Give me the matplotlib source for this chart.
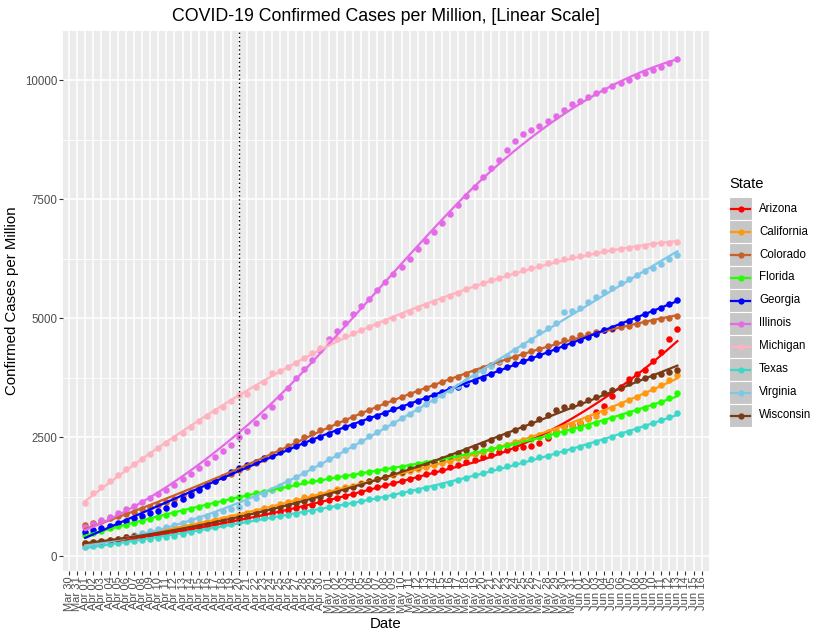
import numpy as np
import pandas as pd
import matplotlib
matplotlib.use("Agg")
import matplotlib.pyplot as plt
import matplotlib.dates as mdates
from matplotlib.patches import Rectangle
from matplotlib.lines import Line2D

plt.rcParams['font.family'] = ['Liberation Sans', 'DejaVu Sans']

# Confirmed cases per million, daily from Apr 01 to Jun 13 2020
start_date = "2020-04-01"

arizona = [250, 270, 290, 310, 330, 350, 370, 390, 410, 440, 460,
           490, 530, 560, 600, 630, 670, 700, 740, 770,
           800, 830, 860, 900, 930, 960, 1000, 1040,
           1080, 1130, 1170, 1220, 1260, 1310, 1350, 1400, 1440, 1490, 1530, 1580, 1620, 1670, 1720, 1760, 1810,
           1860, 1920, 1970, 2020, 2080, 2130, 2180,
           2220, 2260, 2290, 2310, 2370, 2480, 2600, 2730, 2750, 2790,
           2900, 3030, 3150, 3360, 3520, 3720, 3820, 3900, 4100, 4290, 4560, 4770]

california = [270, 290, 310, 340, 360, 390, 410, 440, 470, 490, 520,
              560, 600, 630, 670, 710, 750, 780, 820, 860,
              900, 950, 1000, 1040, 1090, 1130, 1180, 1230,
              1270, 1310, 1350, 1400, 1440, 1480, 1530, 1570, 1610, 1650, 1700, 1740, 1780, 1820, 1860, 1910, 1950,
              2000, 2050, 2100, 2140, 2190, 2240, 2290,
              2340, 2390, 2440, 2500, 2550, 2600, 2650, 2700, 2760, 2810,
              2880, 2950, 3030, 3110, 3190, 3270, 3350, 3430, 3510, 3600, 3700, 3800]

colorado = [650, 700, 740, 790, 840, 880, 930, 980, 1030, 1080, 1130,
            1200, 1280, 1350, 1430, 1510, 1580, 1660, 1730, 1810,
            1880, 1950, 2040, 2140, 2230, 2320, 2420, 2510,
            2580, 2650, 2720, 2790, 2860, 2930, 3000, 3070, 3140, 3210, 3270, 3340, 3400, 3470, 3530, 3590, 3650,
            3710, 3770, 3830, 3890, 3950, 4010, 4070,
            4130, 4190, 4240, 4300, 4350, 4410, 4470, 4530, 4580, 4640,
            4670, 4710, 4740, 4770, 4810, 4840, 4870, 4910, 4940, 4970, 5010, 5040]

florida = [440, 490, 530, 580, 620, 660, 700, 740, 780, 820, 860,
           900, 940, 990, 1030, 1070, 1110, 1150, 1200, 1240,
           1280, 1320, 1350, 1390, 1430, 1470, 1510, 1550,
           1580, 1600, 1630, 1660, 1690, 1710, 1740, 1770, 1790, 1820, 1850, 1880, 1900, 1930, 1960, 1980, 2010,
           2050, 2090, 2130, 2170, 2210, 2250, 2290,
           2330, 2370, 2410, 2450, 2490, 2530, 2570, 2610, 2650, 2690,
           2740, 2790, 2840, 2900, 2950, 3000, 3060, 3110, 3170, 3240, 3320, 3430]

georgia = [500, 550, 590, 640, 690, 740, 790, 850, 900, 950, 1000,
           1090, 1190, 1280, 1380, 1470, 1570, 1660, 1760, 1850,
           1910, 1980, 2050, 2110, 2180, 2250, 2310, 2380,
           2440, 2510, 2570, 2630, 2700, 2760, 2820, 2890, 2950, 3010, 3080, 3140, 3200, 3260, 3330, 3390, 3450,
           3510, 3560, 3610, 3680, 3750, 3830, 3900,
           3970, 4030, 4090, 4150, 4220, 4280, 4340, 4410, 4470, 4540,
           4600, 4670, 4740, 4800, 4870, 4940, 5010, 5080, 5150, 5220, 5300, 5380]

illinois = [610, 680, 750, 820, 900, 980, 1060, 1130, 1210, 1300, 1390,
            1500, 1620, 1730, 1840, 1950, 2070, 2200, 2330, 2500,
            2620, 2790, 2950, 3140, 3350, 3540, 3730, 3920, 4120, 4330, 4550,
            4730, 4900, 5080, 5250, 5410, 5580, 5750, 5920, 6080, 6250,
            6440, 6620, 6810, 7000, 7190, 7380, 7570, 7760, 7960, 8150,
            8320, 8520, 8720, 8860, 8940, 9030, 9140, 9250, 9360, 9490,
            9560, 9640, 9720, 9800, 9870, 9940, 10010, 10080, 10140, 10210, 10270, 10360, 10440]

michigan = [1110, 1320, 1450, 1570, 1700, 1820, 1930, 2040, 2150, 2260, 2370,
            2480, 2590, 2710, 2830, 2940, 3050, 3140, 3260, 3380,
            3400, 3550, 3660, 3840, 3880, 3970, 4050, 4150, 4260, 4380, 4500,
            4560, 4620, 4690, 4750, 4810, 4880, 4940, 5000, 5060, 5130,
            5200, 5270, 5330, 5400, 5470, 5530, 5600, 5670, 5730, 5800,
            5850, 5900, 5950, 6000, 6050, 6100, 6150, 6190, 6240, 6280,
            6310, 6340, 6370, 6400, 6430, 6460, 6480, 6500, 6520, 6550, 6570, 6580, 6600]

texas = [190, 210, 230, 250, 270, 290, 310, 330, 350, 380, 400,
         430, 470, 500, 540, 580, 610, 650, 680, 720,
         740, 770, 790, 820, 840, 870, 890, 920,
         950, 980, 1020, 1050, 1090, 1120, 1150, 1190, 1220, 1250, 1290, 1320, 1360, 1390, 1420, 1460, 1490,
         1540, 1590, 1640, 1700, 1750, 1800, 1850,
         1890, 1940, 1980, 2030, 2070, 2110, 2160, 2200, 2250, 2290,
         2340, 2390, 2440, 2500, 2560, 2610, 2670, 2730, 2790, 2850, 2920, 3000]

virginia = [190, 230, 270, 310, 350, 390, 440, 480, 520, 570, 610,
            660, 700, 750, 790, 840, 890, 940, 980, 1030,
            1120, 1210, 1300, 1390, 1480, 1570, 1660, 1750,
            1850, 1940, 2040, 2130, 2230, 2320, 2420, 2520, 2610, 2710, 2800, 2900, 2990, 3090, 3190, 3280, 3380,
            3480, 3580, 3680, 3780, 3880, 3990, 4100,
            4210, 4320, 4430, 4540, 4700, 4800, 4900, 5120, 5150, 5200,
            5330, 5440, 5540, 5640, 5730, 5820, 5900, 5980, 6060, 6140, 6230, 6320]

wisconsin = [280, 300, 320, 340, 360, 390, 410, 430, 450, 480, 500,
             530, 570, 600, 640, 670, 710, 750, 780, 820,
             860, 900, 940, 980, 1030, 1070, 1110, 1150,
             1200, 1250, 1310, 1360, 1410, 1460, 1510, 1570, 1620, 1670, 1720, 1770, 1830, 1880, 1930, 1980, 2030,
             2100, 2160, 2230, 2300, 2360, 2430, 2500,
             2570, 2640, 2720, 2800, 2880, 2970, 3060, 3140, 3160, 3210,
             3280, 3350, 3420, 3490, 3560, 3630, 3690, 3730, 3780, 3820, 3860, 3900]

states = ["Arizona", "California", "Colorado", "Florida", "Georgia",
          "Illinois", "Michigan", "Texas", "Virginia", "Wisconsin"]
series = [arizona, california, colorado, florida, georgia,
          illinois, michigan, texas, virginia, wisconsin]
colors = ["#FF0000", "#FF9912", "#C8602A", "#22FF00", "#0000FF",
          "#E46AE8", "#FFB3C1", "#3ED8C8", "#80C6E6", "#7A3A16"]

marker_date = "2020-04-20"
x_min, x_max = "2020-03-30", "2020-06-16"


def loess(x, y, xs, span=0.75):
    # local quadratic fit with tricube weights, same idea as geom_smooth
    n = len(x)
    q = int(np.ceil(span * n))
    out = []
    for x0 in xs:
        d = np.abs(x - x0)
        h = np.sort(d)[q - 1]
        w = np.clip(1 - (d / h) ** 3, 0, None) ** 3
        A = np.vstack([np.ones(n), x - x0, (x - x0) ** 2]).T
        W = np.sqrt(w)
        coef = np.linalg.lstsq(A * W[:, None], y * W, rcond=None)[0]
        out.append(coef[0])
    return np.array(out)


fig = plt.figure(figsize=(8.27, 6.43), dpi=100)
ax = fig.add_axes([63 / 827, 1 - 571 / 643, (709 - 63) / 827, (571 - 31) / 643])
ax.set_facecolor("#EBEBEB")

for name, vals, col in zip(states, series, colors):
    dates = pd.date_range(start_date, periods=len(vals), freq="D")
    xn = mdates.date2num(dates)
    yv = np.array(vals, dtype=float)
    ax.scatter(xn, yv, s=22, color=col, linewidths=0, zorder=3)
    xs = np.linspace(xn.min(), xn.max(), 80)
    ax.plot(xs, loess(xn, yv, xs), color=col, lw=1.6, zorder=4)

ax.axvline(mdates.datestr2num(marker_date), color="black", ls=(0, (1, 2)), lw=1.0, zorder=5)

# axis limits and ticks, one tick per day
tick_days = pd.date_range(x_min, x_max, freq="D")
day0 = mdates.datestr2num(x_min)
ax.set_xlim(day0 - 0.74, day0 + 78.9)
ax.set_ylim(-315, 11030)
ax.set_xticks(mdates.date2num(tick_days))
ax.set_xticklabels([d.strftime("%b %d") for d in tick_days])
ax.set_yticks([0, 2500, 5000, 7500, 10000])
ax.set_yticks([1250, 3750, 6250, 8750], minor=True)
ax.tick_params(axis="x", labelrotation=90, labelsize=8.0, colors="#4D4D4D",
               length=2.6, width=0.8, pad=1.5)
ax.tick_params(axis="y", labelsize=8.3, colors="#4D4D4D", length=2.6, width=0.8, pad=1.5)
ax.tick_params(axis="both", which="both", color="#333333")
ax.tick_params(axis="y", which="minor", length=0)
for lab in ax.get_xticklabels():
    lab.set_ha("center")

ax.grid(True, which="major", color="white", lw=1.1, zorder=0)
ax.grid(True, which="minor", axis="y", color="white", lw=0.55, zorder=0)
ax.set_axisbelow(True)
for sp in ax.spines.values():
    sp.set_visible(False)

ax.set_title("COVID-19 Confirmed Cases per Million, [Linear Scale]", fontsize=12.8, pad=7)
ax.set_xlabel("Date", fontsize=10.8, labelpad=3)
ax.set_ylabel("Confirmed Cases per Million", fontsize=10.8, labelpad=4)

# legend drawn by hand to get ggplot-style keys
W, H = 827, 643
fig.text(729 / W, 1 - 184 / H, "State", fontsize=10.6, va="center", ha="left")
key_top = 197
key_h = 23
for i, (name, col) in enumerate(zip(states, colors)):
    y0 = key_top + i * key_h
    fig.add_artist(Rectangle((729 / W, 1 - (y0 + key_h) / H), 23 / W, key_h / H,
                             transform=fig.transFigure, facecolor="#C6C6C6",
                             edgecolor="white", lw=0.8))
    yc = 1 - (y0 + key_h / 2) / H
    fig.add_artist(Line2D([731 / W, 750 / W], [yc, yc], transform=fig.transFigure,
                          color=col, lw=1.6))
    fig.add_artist(Line2D([740.5 / W], [yc], transform=fig.transFigure, marker="o",
                          markersize=4.5, color=col, markeredgewidth=0))
    fig.text(759 / W, yc, name, fontsize=8.3, va="center", ha="left")

fig.savefig("out.png", dpi=100)
